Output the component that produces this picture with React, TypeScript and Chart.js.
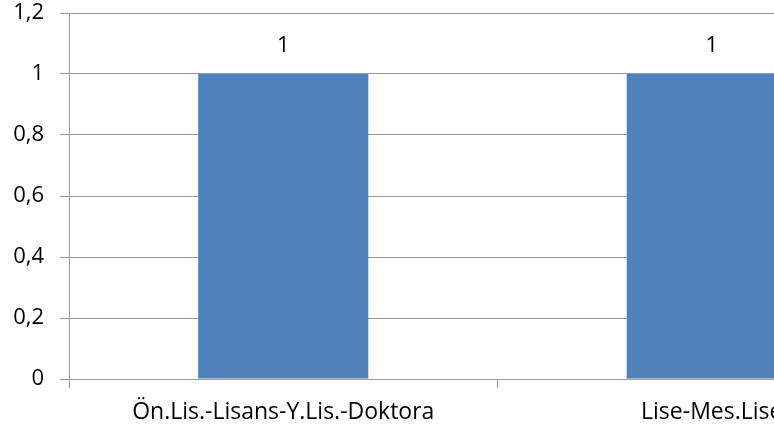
import React, { useEffect, useRef } from "react";
import { Chart, registerables } from "chart.js";

Chart.register(...registerables);

const categories = ["Ön.Lis.-Lisans-Y.Lis.-Doktora", "Lise-Mes.Lise"];
const values = [1, 1];
const yTicks = [0, 0.2, 0.4, 0.6, 0.8, 1, 1.2];

const FONT = "'Open Sans', sans-serif";
const SIZE = 23;

const valueLabels = {
  id: "valueLabels",
  afterDatasetsDraw(chart: any) {
    const ctx = chart.ctx;
    const meta = chart.getDatasetMeta(0);
    ctx.save();
    ctx.font = SIZE - 1 + "px " + FONT;
    ctx.fillStyle = "#000";
    ctx.textAlign = "center";
    ctx.textBaseline = "middle";
    meta.data.forEach((el: any, i: number) => {
      ctx.fillText(String(values[i]).replace(".", ","), el.x, el.y - 28);
    });
    ctx.restore();
  },
};

export default function App() {
  const ref = useRef<HTMLCanvasElement>(null);
  useEffect(() => {
    document.body.style.margin = "0";
    const chart = new Chart(ref.current!, {
      type: "bar",
      data: {
        labels: categories,
        datasets: [
          {
            data: values,
            backgroundColor: "#4f81bd",
            categoryPercentage: 1,
            barPercentage: 0.397,
          },
        ],
      },
      options: {
        animation: false,
        responsive: false,
        layout: { padding: { top: 13, right: 14, left: 0, bottom: 0 } },
        plugins: { legend: { display: false }, tooltip: { enabled: false } },
        scales: {
          x: {
            offset: true,
            grid: {
              offset: true,
              drawOnChartArea: false,
              drawTicks: true,
              tickLength: 9,
              color: "#999999",
            },
            border: { color: "#999999" },
            ticks: {
              color: "#000",
              font: { family: FONT, size: SIZE },
              maxRotation: 0,
              autoSkip: false,
              padding: 11,
            },
            afterFit: (s: any) => {
              s.height = 55;
              s.paddingLeft = 0;
              s.paddingRight = 0;
            },
          },
          y: {
            min: 0,
            max: 1.2,
            afterBuildTicks: (s: any) => {
              s.ticks = yTicks.map((v) => ({ value: v }));
            },
            grid: { color: "#999999", tickLength: 9 },
            border: { color: "#999999" },
            ticks: {
              color: "#000",
              font: { family: FONT, size: SIZE - 1 },
              padding: 16,
              callback: (v: any) => String(Math.round(Number(v) * 10) / 10).replace(".", ","),
            },
            afterFit: (s: any) => {
              s.width = 69;
              s.paddingTop = 0;
              s.paddingBottom = 0;
            },
          },
        },
      },
      plugins: [valueLabels],
    });
    return () => chart.destroy();
  }, []);
  return (
    <div style={{ width: 774, height: 434, overflow: "hidden", background: "#fff" }}>
      <canvas ref={ref} width={940} height={434} style={{ display: "block" }} />
    </div>
  );
}
